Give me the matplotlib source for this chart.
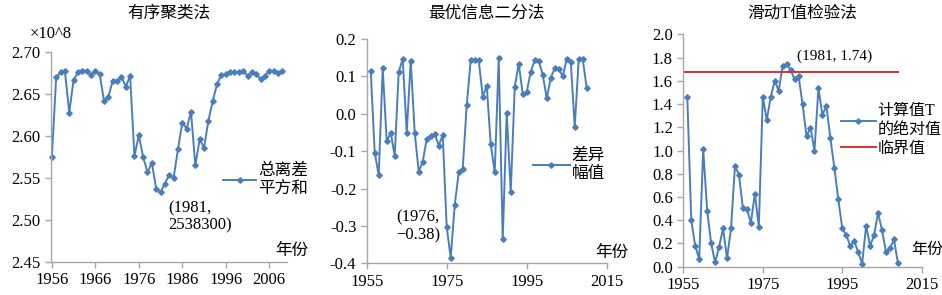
import numpy as np
import matplotlib
matplotlib.use('Agg')
import matplotlib.pyplot as plt
from matplotlib.ticker import FormatStrFormatter

plt.rcParams['font.family'] = ['Liberation Serif', 'Noto Sans CJK SC']
plt.rcParams['axes.unicode_minus'] = True

## data ##

# 有序聚类法 : 总离差平方和 (x10^8), 1956-2009
years_a = np.arange(1956, 2010)
sum_sq = [2.575, 2.670, 2.676, 2.678, 2.628, 2.667, 2.676, 2.678, 2.678, 2.673,
          2.678, 2.674, 2.642, 2.647, 2.666, 2.666, 2.671, 2.659, 2.672,
          2.576, 2.601, 2.575, 2.557, 2.568, 2.537, 2.533, 2.543, 2.554, 2.550,
          2.584, 2.616, 2.609, 2.629, 2.565, 2.596, 2.586, 2.618, 2.642, 2.662,
          2.673, 2.674, 2.676, 2.676, 2.677, 2.678, 2.672, 2.676, 2.674, 2.668,
          2.672, 2.678, 2.678, 2.675, 2.678]

# 最优信息二分法 : 差异幅值, 1956-2010
years_b = np.arange(1956, 2011)
diff_amp = [0.114, -0.104, -0.164, 0.122, -0.074, -0.051, -0.112, 0.112, 0.147, -0.051,
            0.142, -0.051, -0.155, -0.128, -0.068, -0.059, -0.054, -0.085, -0.057,
            -0.304, -0.385, -0.244, -0.157, -0.147, 0.023, 0.144, 0.145, 0.143, 0.046,
            0.075, -0.082, -0.157, 0.148, -0.336, 0.001, -0.210, 0.071, 0.134, 0.052,
            0.058, 0.113, 0.143, 0.141, 0.105, 0.041, 0.096, 0.122, 0.120, 0.100,
            0.147, 0.139, -0.035, 0.147, 0.146, 0.068]

# 滑动T值检验法 : |T|, 1956-2009, critical value
years_c = np.arange(1956, 2010)
t_abs = [1.463, 0.400, 0.178, 0.069, 1.013, 0.482, 0.200, 0.037, 0.172, 0.330,
         0.072, 0.330, 0.867, 0.790, 0.502, 0.494, 0.379, 0.626, 0.344,
         1.463, 1.263, 1.463, 1.598, 1.515, 1.727, 1.745, 1.693, 1.613, 1.641,
         1.400, 1.125, 1.197, 0.999, 1.535, 1.306, 1.383, 1.110, 0.852, 0.580,
         0.330, 0.273, 0.178, 0.222, 0.127, 0.027, 0.353, 0.178, 0.273, 0.462,
         0.316, 0.127, 0.158, 0.235, 0.034]
t_crit = 1.679
crit_span = [1955, 2009]

yticks_a = [2.45, 2.50, 2.55, 2.60, 2.65, 2.70]
yticks_b = [-0.4, -0.3, -0.2, -0.1, 0.0, 0.1, 0.2]
yticks_c = [0.0, 0.2, 0.4, 0.6, 0.8, 1.0, 1.2, 1.4, 1.6, 1.8, 2.0]

blue = '#4a7ebb'
red = '#d9302c'
grey = '#a6a6a6'

fig = plt.figure(figsize=(9.42, 2.95), dpi=100)
ax1 = fig.add_axes([0.0541, 0.1129, 0.2502, 0.7098])
ax2 = fig.add_axes([0.3893, 0.1075, 0.2548, 0.7603])
ax3 = fig.add_axes([0.7254, 0.0959, 0.2531, 0.7878])

for ax in (ax1, ax2, ax3):
    for s in ('top', 'right'):
        ax.spines[s].set_visible(False)
    for s in ('left', 'bottom'):
        ax.spines[s].set_color(grey)
        ax.spines[s].set_linewidth(1.0)
    ax.tick_params(colors=grey, labelcolor='black', labelsize=12, length=4, width=1.0)

line_kw = dict(color=blue, lw=1.4, marker='D', ms=2.8, clip_on=False)

# --- panel 1
ax1.plot(years_a, sum_sq, label='总离差\n平方和', **line_kw)
ax1.set_xlim(1955.8, 2010)
ax1.set_ylim(2.45, 2.70)
ax1.set_xticks(np.arange(1956, 2010, 10))
ax1.set_yticks(yticks_a)
ax1.yaxis.set_major_formatter(FormatStrFormatter('%.2f'))
ax1.text(-0.09, 1.087, '×10^8', transform=ax1.transAxes, fontsize=12, va='center', ha='left')
ax1.text(1982.8, 2.5235, '(1981,\n2538300)', fontsize=12, va='top', ha='left', linespacing=1.1)
ax1.text(0.95, 0.05, '年份', transform=ax1.transAxes, fontsize=12, va='center', ha='left')
ax1.legend(loc='center left', bbox_to_anchor=(0.73, 0.39), frameon=False, fontsize=12,
           handlelength=2.0, handletextpad=0.1, borderpad=0, borderaxespad=0)

# --- panel 2
ax2.plot(years_b, diff_amp, label='差异\n幅值', **line_kw)
ax2.set_xlim(1955, 2015)
ax2.set_ylim(-0.4, 0.2)
ax2.set_xticks([1955, 1975, 1995, 2015])
ax2.set_yticks(yticks_b)
ax2.yaxis.set_major_formatter(FormatStrFormatter('%.1f'))
ax2.text(1962.3, -0.257, '(1976,\n\u22120.38)', fontsize=12, va='top', ha='left', linespacing=1.1)
ax2.text(0.951, 0.046, '年份', transform=ax2.transAxes, fontsize=12, va='center', ha='left')
ax2.legend(loc='center left', bbox_to_anchor=(0.693, 0.438), frameon=False, fontsize=12,
           handlelength=2.2, handletextpad=0.1, borderpad=0, borderaxespad=0)

# --- panel 3
ax3.plot(years_c, t_abs, label='计算值T\n的绝对值', **line_kw)
ax3.plot(crit_span, [t_crit, t_crit], color=red, lw=1.4, label='临界值')
ax3.set_xlim(1955, 2015)
ax3.set_ylim(0, 2.0)
ax3.set_xticks([1955, 1975, 1995, 2015])
ax3.set_yticks(yticks_c)
ax3.yaxis.set_major_formatter(FormatStrFormatter('%.1f'))
ax3.text(1983.6, 1.813, '(1981, 1.74)', fontsize=11, va='center', ha='left')
ax3.text(0.955, 0.072, '年份', transform=ax3.transAxes, fontsize=11.5, va='center', ha='left')
ax3.legend(loc='center left', bbox_to_anchor=(0.66, 0.588), frameon=False, fontsize=11.5,
           handlelength=2.2, handletextpad=0.1, borderpad=0, borderaxespad=0, labelspacing=0.2)

# titles
for ax, title in ((ax1, '有序聚类法'), (ax2, '最优信息二分法'), (ax3, '滑动T值检验法')):
    pos = ax.get_position()
    fig.text((pos.x0 + pos.x1) / 2, 1 - 14 / 295, title, ha='center', va='center', fontsize=12)

fig.savefig('out.png', dpi=100)
